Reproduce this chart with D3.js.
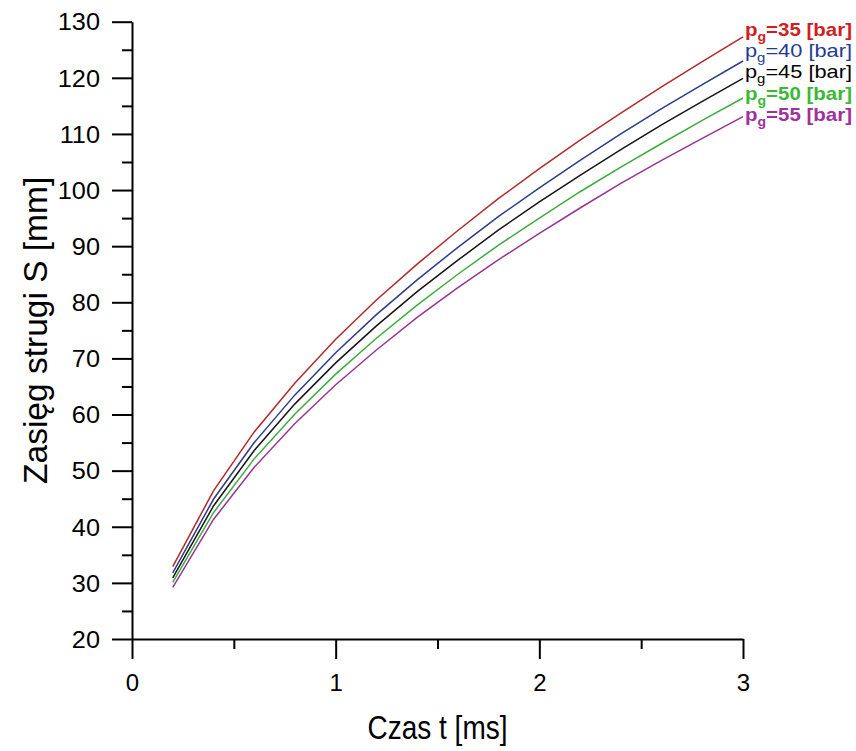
<!DOCTYPE html>
<html>
<head>
<meta charset="utf-8">
<script src="https://cdn.jsdelivr.net/npm/d3@7/dist/d3.min.js"></script>
<style>
  body { margin: 0; background: #fff; }
  svg { display: block; font-family: Arial, "Liberation Sans", sans-serif; }
</style>
</head>
<body>
<svg id="chart" width="856" height="751"></svg>
<script>
// values (t in ms, S in mm)
const times = [0.2, 0.4, 0.6, 0.8, 1.0, 1.2, 1.4, 1.6, 1.8, 2.0, 2.2, 2.4, 2.6, 2.8, 3.0]
const pressures = [35, 40, 45, 50, 55]
const s35 = [32.9, 46.4, 56.9, 65.6, 73.4, 80.4, 86.8, 92.8, 98.5, 103.8, 108.9, 113.7, 118.4, 122.9, 127.3]
const s40 = [31.8, 44.9, 55.0, 63.5, 71.0, 77.8, 84.0, 89.8, 95.3, 100.4, 105.3, 110.0, 114.5, 118.8, 123.0]
const s45 = [30.9, 43.7, 53.6, 61.9, 69.2, 75.8, 81.9, 87.5, 92.9, 97.9, 102.6, 107.2, 111.6, 115.8, 119.9]
const s50 = [30.1, 42.5, 52.1, 60.1, 67.2, 73.6, 79.5, 85.0, 90.2, 95.0, 99.7, 104.1, 108.3, 112.4, 116.4]
const s55 = [29.2, 41.3, 50.6, 58.4, 65.3, 71.5, 77.3, 82.6, 87.6, 92.3, 96.8, 101.2, 105.3, 109.2, 113.1]
const yTicks = [20, 30, 40, 50, 60, 70, 80, 90, 100, 110, 120, 130]
const xTicks = [0, 1, 2, 3]

const lineColors = ['#b02a2a', '#2d3c8a', '#151515', '#3fab3f', '#973592']
const labelColors = ['#d01e1e', '#233a92', '#000000', '#3cb934', '#a0309c']
const labelWeights = ['bold', 'normal', 'normal', 'bold', 'bold']

const series = [s35, s40, s45, s50, s55].map((vals, i) => ({
  p: pressures[i],
  values: vals.map((v, j) => [times[j], v])
}))

const svg = d3.select('#chart')

const x = d3.scaleLinear().domain([0, 3]).range([132, 743])
const y = d3.scaleLinear().domain([20, 130]).range([639, 21.7])

// stretch text a little sideways, like the original bitmap
function widen (sel, k) {
  sel.each(function () {
    const w = this.getComputedTextLength()
    d3.select(this).attr('textLength', w * k).attr('lengthAdjust', 'spacingAndGlyphs')
  })
}

// minor ticks first
svg.append('g')
  .attr('transform', `translate(${x(0)},0)`)
  .call(d3.axisLeft(y).tickValues(d3.range(25, 130, 10)).tickSize(10).tickFormat(''))
  .call(g => g.select('.domain').remove())
  .call(g => g.selectAll('line').attr('stroke-width', 2))

svg.append('g')
  .attr('transform', `translate(0,${y(20)})`)
  .call(d3.axisBottom(x).tickValues([0.5, 1.5, 2.5]).tickSize(10).tickFormat(''))
  .call(g => g.select('.domain').remove())
  .call(g => g.selectAll('line').attr('stroke-width', 2))

const yAxis = svg.append('g')
  .attr('transform', `translate(${x(0)},0)`)
  .call(d3.axisLeft(y).tickValues(yTicks).tickSize(20).tickSizeOuter(0).tickPadding(12))
yAxis.select('.domain').attr('stroke-width', 2)
yAxis.selectAll('line').attr('stroke-width', 2)
yAxis.selectAll('text')
  .attr('font-size', 23)
  .attr('font-family', 'Arial, "Liberation Sans", sans-serif')
  .attr('fill', '#000')
  .attr('dy', '0.36em')
  .call(widen, 1.1)

const xAxis = svg.append('g')
  .attr('transform', `translate(0,${y(20)})`)
  .call(d3.axisBottom(x).tickValues(xTicks).tickFormat(d3.format('d'))
    .tickSize(20).tickSizeOuter(0).tickPadding(15))
xAxis.select('.domain').attr('stroke-width', 2)
xAxis.selectAll('line').attr('stroke-width', 2)
xAxis.selectAll('text')
  .attr('font-size', 24)
  .attr('font-family', 'Arial, "Liberation Sans", sans-serif')
  .attr('fill', '#000')

// curves
const line = d3.line()
  .x(d => x(d[0]))
  .y(d => y(d[1]))

svg.append('g')
  .selectAll('path')
  .data(series)
  .enter().append('path')
  .attr('fill', 'none')
  .attr('stroke', (d, i) => lineColors[i])
  .attr('stroke-width', 1.5)
  .attr('d', d => line(d.values))

// labels at the right end
const labelY = [35.5, 57, 78, 99.5, 121]
const label = svg.append('g')
  .selectAll('text')
  .data(series)
  .enter().append('text')
  .attr('x', 745)
  .attr('y', (d, i) => labelY[i])
  .attr('font-size', 19)
  .attr('font-weight', (d, i) => labelWeights[i])
  .attr('fill', (d, i) => labelColors[i])

label.append('tspan').text('p')
label.append('tspan').attr('font-size', 13).attr('dy', 5).text('g')
label.append('tspan').attr('dy', -5).text(d => `=${d.p} [bar]`)
label.attr('textLength', 107).attr('lengthAdjust', 'spacingAndGlyphs')

// axis titles
svg.append('text')
  .attr('transform', `translate(${(x(0) + x(3)) / 2},739) scale(1,1.18)`)
  .attr('text-anchor', 'middle')
  .attr('font-size', 28)
  .text('Czas t [ms]')

svg.append('text')
  .attr('transform', `translate(47,${(y(20) + y(130)) / 2}) rotate(-90)`)
  .attr('text-anchor', 'middle')
  .attr('font-size', 33.5)
  .text('Zasięg strugi S [mm]')
</script>
</body>
</html>
